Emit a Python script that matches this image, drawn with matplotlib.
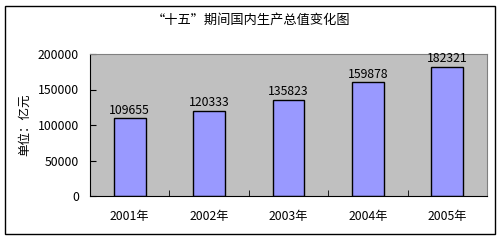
import numpy as np
import matplotlib.pyplot as plt
from matplotlib.patches import Rectangle

plt.rcParams['font.family'] = ['Noto Sans CJK SC', 'DejaVu Sans']

years = ["2001年", "2002年", "2003年", "2004年", "2005年"]
gdp = [109655, 120333, 135823, 159878, 182321]

fig = plt.figure(figsize=(5.02, 2.40), dpi=100)
fig.patches.append(Rectangle((5/502, 6/240), 490/502, 228/240, transform=fig.transFigure,
                             fill=False, edgecolor='black', linewidth=1))
ax = fig.add_axes([90/502, 44/240, 397/502, 142/240])
ax.set_facecolor('#C0C0C0')

x = np.arange(len(years))
bars = ax.bar(x, gdp, width=0.4, color='#9999FF', edgecolor='black', linewidth=1)
for xi, v in zip(x, gdp):
    ax.annotate(str(v), (xi, v), xytext=(0, 1), textcoords='offset points',
                ha='center', va='bottom', fontsize=8.8)

ax.set_xlim(-0.5, 4.5)
ax.set_ylim(0, 200000)
ax.set_yticks([0, 50000, 100000, 150000, 200000])
ax.set_yticklabels(['0', '50000', '100000', '150000', '200000'], fontsize=8.8)
ax.set_xticks(x)
ax.set_xticklabels(years, fontsize=8.8)
ax.set_xticks(np.arange(-0.5, 5, 1), minor=True)
ax.tick_params(axis='x', which='major', length=0, pad=10)
ax.tick_params(axis='x', which='minor', direction='in', length=4)
ax.tick_params(axis='y', direction='in', length=4, pad=8)

ax.spines['top'].set_color('#808080')
ax.spines['right'].set_color('#808080')
ax.set_ylabel('单位：亿元', fontsize=9, labelpad=5)
fig.text(0.5, 1 - 20/240, '“十五”期间国内生产总值变化图', ha='center', va='center', fontsize=9.5)

fig.savefig('out.png', dpi=100)
